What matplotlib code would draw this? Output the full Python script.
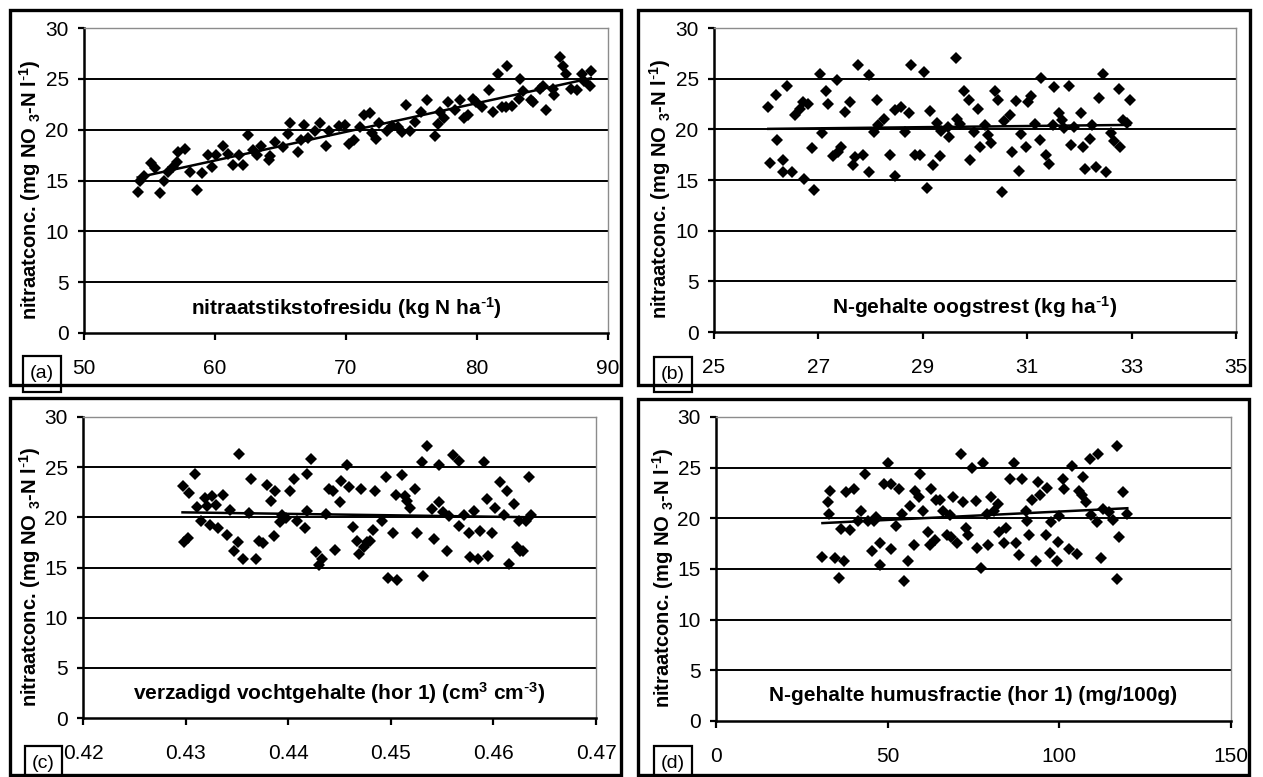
"""Nitraatconcentratie tegen vier bodem-/gewasvariabelen, 2x2 scatterpanelen met lineaire trend."""

import matplotlib

matplotlib.use("Agg")
import matplotlib.pyplot as plt
import numpy as np
from matplotlib.patches import Rectangle

plt.rcParams["font.family"] = ["Liberation Sans", "DejaVu Sans"]
plt.rcParams["mathtext.default"] = "regular"

W, H = 1263, 777

# (a) nitraatstikstofresidu (kg N/ha)
a_x = [54.1, 54.3, 54.6, 55.1, 55.4, 55.8, 56.1, 56.4, 56.8, 57.1, 57.2, 57.7, 58.1, 58.6,
       59.0, 59.5, 59.8, 60.1, 60.6, 61.0, 61.4, 61.8, 62.1, 62.5, 62.9, 63.2, 63.5, 64.1,
       64.2, 64.6, 65.2, 65.6, 65.7, 66.3, 66.6, 66.8, 67.1, 67.6, 68.0, 68.5, 68.7, 69.5,
       69.9, 70.2, 70.6, 71.1, 71.4, 71.8, 72.0, 72.3, 72.5, 73.1, 73.5, 74.0, 74.3, 74.6,
       74.9, 75.3, 75.7, 76.2, 76.8, 77.0, 77.2, 77.5, 77.8, 78.3, 78.7, 79.0, 79.3, 79.7,
       79.9, 80.4, 80.9, 81.2, 81.6, 81.9, 82.2, 82.3, 82.7, 83.2, 83.3, 83.5, 84.1, 84.3,
       84.8, 85.0, 85.3, 85.8, 85.9, 86.3, 86.6, 86.8, 87.2, 87.6, 88.0, 88.2, 88.6, 88.7]
a_y = [13.9, 15.0, 15.4, 16.7, 16.2, 13.8, 15.0, 15.8, 16.3, 16.8, 17.8, 18.1, 15.8, 14.1,
       15.7, 17.5, 16.3, 17.5, 18.4, 17.6, 16.5, 17.5, 16.5, 19.5, 18.0, 17.5, 18.4, 17.0,
       17.4, 18.8, 18.3, 19.6, 20.7, 17.8, 19.0, 20.5, 19.2, 19.9, 20.7, 18.4, 19.9, 20.4,
       20.5, 18.6, 19.0, 20.3, 21.4, 21.6, 19.7, 19.1, 20.7, 19.9, 20.4, 20.3, 19.8, 22.4,
       19.9, 20.8, 21.7, 22.9, 19.4, 20.6, 21.7, 21.1, 22.7, 21.9, 22.9, 21.1, 21.4, 23.0,
       22.7, 22.2, 23.9, 21.7, 25.5, 22.2, 22.2, 26.3, 22.3, 23.0, 25.0, 23.8, 22.9, 22.7,
       24.0, 24.3, 21.9, 24.0, 23.4, 27.1, 26.3, 25.5, 24.0, 23.9, 25.5, 24.8, 24.3, 25.8]

# (b) N-gehalte oogstrest (kg/ha)
b_x = [26.04, 26.08, 26.19, 26.20, 26.32, 26.32, 26.39, 26.49, 26.56, 26.64, 26.70, 26.73,
       26.81, 26.87, 26.91, 27.04, 27.07, 27.14, 27.18, 27.28, 27.35, 27.38, 27.43, 27.51,
       27.61, 27.66, 27.71, 27.76, 27.86, 27.96, 27.97, 28.06, 28.13, 28.15, 28.25, 28.38,
       28.46, 28.47, 28.59, 28.65, 28.73, 28.78, 28.85, 28.95, 29.02, 29.08, 29.13, 29.19,
       29.27, 29.33, 29.35, 29.49, 29.50, 29.64, 29.66, 29.72, 29.78, 29.89, 29.91, 29.98,
       30.05, 30.09, 30.19, 30.24, 30.30, 30.39, 30.45, 30.51, 30.55, 30.67, 30.71, 30.78,
       30.84, 30.88, 30.98, 31.01, 31.07, 31.15, 31.25, 31.27, 31.36, 31.42, 31.50, 31.52,
       31.61, 31.67, 31.71, 31.81, 31.84, 31.89, 32.04, 32.07, 32.10, 32.21, 32.25, 32.31,
       32.38, 32.46, 32.51, 32.60, 32.66, 32.76, 32.77, 32.83, 32.91, 32.97]
b_y = [22.2, 16.7, 23.4, 18.9, 17.0, 15.8, 24.3, 15.8, 21.4, 22.0, 22.7, 15.1,
       22.5, 18.2, 14.0, 25.5, 19.6, 23.8, 22.5, 17.4, 24.9, 17.8, 18.3, 21.7,
       22.7, 16.5, 17.3, 26.3, 17.5, 15.8, 25.4, 19.7, 22.9, 20.4, 21.0, 17.5,
       15.4, 21.9, 22.2, 19.7, 21.6, 26.3, 17.5, 17.5, 25.7, 14.2, 21.8, 16.5,
       20.6, 17.4, 19.8, 20.2, 19.2, 27.0, 21.0, 20.5, 23.8, 22.9, 17.0, 19.7,
       22.0, 18.3, 20.4, 19.4, 18.7, 23.8, 22.9, 13.8, 20.8, 21.4, 17.8, 22.8,
       15.9, 19.5, 18.3, 22.7, 23.3, 20.5, 18.9, 25.1, 17.5, 16.6, 20.4, 24.2,
       21.6, 20.9, 20.1, 24.3, 18.5, 20.2, 21.6, 18.3, 16.1, 19.0, 20.4, 16.3,
       23.1, 25.5, 15.8, 19.6, 18.8, 24.0, 18.3, 20.9, 20.6, 22.9]

# (c) verzadigd vochtgehalte hor 1 (cm3/cm3)
c_x = [0.4297, 0.4298, 0.4302, 0.4303, 0.4309, 0.4311, 0.4315, 0.4319, 0.4321, 0.4324,
       0.4326, 0.4330, 0.4332, 0.4336, 0.4340, 0.4343, 0.4347, 0.4351, 0.4352, 0.4356,
       0.4362, 0.4364, 0.4369, 0.4372, 0.4375, 0.4379, 0.4383, 0.4386, 0.4387, 0.4392,
       0.4394, 0.4398, 0.4402, 0.4406, 0.4409, 0.4416, 0.4418, 0.4418, 0.4422, 0.4427,
       0.4430, 0.4433, 0.4437, 0.4440, 0.4444, 0.4446, 0.4450, 0.4451, 0.4457, 0.4459,
       0.4463, 0.4467, 0.4469, 0.4471, 0.4474, 0.4477, 0.4480, 0.4483, 0.4485, 0.4491,
       0.4495, 0.4497, 0.4502, 0.4505, 0.4506, 0.4511, 0.4514, 0.4516, 0.4519, 0.4524,
       0.4526, 0.4530, 0.4531, 0.4535, 0.4540, 0.4542, 0.4547, 0.4547, 0.4551, 0.4555,
       0.4557, 0.4561, 0.4566, 0.4566, 0.4571, 0.4576, 0.4577, 0.4581, 0.4585, 0.4587,
       0.4591, 0.4594, 0.4595, 0.4599, 0.4602, 0.4606, 0.4610, 0.4613, 0.4615, 0.4620,
       0.4623, 0.4625, 0.4626, 0.4629, 0.4632, 0.4635, 0.4637]
c_y = [23.1, 17.5, 17.9, 22.4, 24.3, 21.0, 19.6, 21.9, 21.1, 19.2,
       22.1, 21.2, 18.9, 22.2, 18.2, 20.7, 16.6, 17.5, 26.3, 15.8,
       20.4, 23.8, 15.8, 17.6, 17.4, 23.2, 21.6, 18.1, 22.6, 19.5,
       20.2, 19.9, 22.6, 23.8, 19.6, 18.9, 20.6, 24.3, 25.8, 16.5,
       15.2, 15.8, 20.3, 22.8, 22.6, 16.7, 21.5, 23.6, 25.2, 23.0,
       19.0, 17.6, 16.3, 22.8, 17.0, 17.5, 17.6, 18.7, 22.6, 19.6,
       24.0, 14.0, 18.4, 22.2, 13.8, 24.2, 22.1, 21.6, 20.9, 22.8,
       18.4, 25.5, 14.2, 27.1, 20.8, 17.8, 25.2, 21.5, 20.5, 16.6,
       20.1, 26.2, 25.6, 19.1, 20.2, 18.4, 16.0, 20.6, 15.8, 18.6,
       25.5, 21.8, 16.1, 18.4, 20.9, 23.5, 20.2, 22.6, 15.3, 21.3,
       17.0, 19.6, 16.6, 16.6, 19.6, 24.0, 20.2]

# (d) N-gehalte humusfractie hor 1 (mg/100g)
d_x = [31.0, 32.5, 32.9, 33.3, 34.8, 35.7, 36.4, 37.2, 38.0, 38.9, 40.3, 41.3, 42.2, 43.4,
       44.2, 45.4, 46.0, 46.5, 47.7, 47.7, 48.9, 50.0, 50.9, 51.0, 52.4, 53.2, 54.1, 54.7,
       55.9, 56.5, 57.6, 58.0, 59.0, 59.4, 60.2, 61.7, 62.3, 62.6, 63.8, 64.1, 65.3, 66.1,
       67.3, 68.2, 68.4, 69.1, 70.3, 71.5, 71.9, 72.8, 73.4, 74.6, 75.8, 76.1, 77.3, 77.8,
       78.9, 79.3, 80.1, 80.9, 82.2, 82.4, 83.9, 84.5, 85.7, 86.9, 87.5, 88.3, 89.0, 90.2,
       90.6, 91.3, 92.1, 93.3, 93.7, 94.5, 96.0, 96.3, 97.4, 97.7, 99.2, 99.5, 100.0, 101.0,
       101.5, 102.7, 103.8, 105.0, 105.6, 106.5, 106.8, 107.9, 108.8, 109.3, 110.9, 111.2,
       112.0, 112.8, 114.4, 115.5, 116.7, 116.7, 117.5, 118.4, 119.8]
d_y = [16.2, 21.6, 20.4, 22.7, 16.1, 14.1, 18.9, 15.8, 22.6, 18.8, 22.9, 19.7, 20.7, 24.4,
       19.7, 16.8, 19.7, 20.1, 15.4, 17.6, 23.4, 25.5, 17.0, 23.4, 19.2, 22.9, 20.4, 13.8,
       15.8, 21.2, 17.4, 22.7, 22.1, 24.4, 20.7, 18.7, 17.4, 22.9, 17.9, 21.8, 21.8, 20.7,
       18.4, 20.3, 18.2, 22.1, 17.6, 26.3, 21.6, 19.0, 18.4, 25.0, 21.7, 17.1, 15.1, 25.5,
       20.4, 17.4, 22.1, 20.7, 21.4, 18.7, 17.6, 19.0, 23.9, 25.5, 17.6, 16.4, 23.9, 20.7,
       19.7, 18.4, 21.8, 15.8, 23.6, 22.3, 18.4, 23.0, 16.6, 19.6, 15.8, 17.7, 20.2, 23.9,
       22.9, 17.0, 25.2, 16.5, 22.7, 22.3, 24.1, 21.6, 25.9, 20.3, 19.6, 26.3,
       16.1, 20.9, 20.6, 19.8, 27.1, 14.0, 18.2, 22.6, 20.4]

YLABEL = r"nitraatconc. (mg NO $_3$-N l$^{\text{-}1}$)"

panels = [
    dict(tag="(a)", x=a_x, y=a_y, xlim=(50, 90), xticks=[50, 60, 70, 80, 90], fmt="{:g}",
         xlabel=r"nitraatstikstofresidu (kg N ha$^{\text{-}1}$)",
         ax_px=(84, 28, 608, 333), frame=(10, 10, 621, 385), box=(23, 356, 61, 392)),
    dict(tag="(b)", x=b_x, y=b_y, xlim=(25, 35), xticks=[25, 27, 29, 31, 33, 35], fmt="{:g}",
         xlabel=r"N-gehalte oogstrest (kg ha$^{\text{-}1}$)",
         ax_px=(714, 28, 1236, 332), frame=(638, 10, 1250, 385), box=(654, 357, 692, 392)),
    dict(tag="(c)", x=c_x, y=c_y, xlim=(0.42, 0.47),
         xticks=[0.42, 0.43, 0.44, 0.45, 0.46, 0.47], fmt="{:.2f}",
         xlabel=r"verzadigd vochtgehalte (hor 1) (cm$^3$ cm$^{\text{-}3}$)",
         ax_px=(83, 417, 596, 718), frame=(10, 398, 621, 775), box=(25, 746, 62, 782)),
    dict(tag="(d)", x=d_x, y=d_y, xlim=(0, 150), xticks=[0, 50, 100, 150], fmt="{:g}",
         xlabel="N-gehalte humusfractie (hor 1) (mg/100g)",
         ax_px=(716, 417, 1231, 721), frame=(638, 399, 1249, 775), box=(654, 746, 692, 782)),
]


def fig_rect(x0, y0, x1, y1):
    """pixel box (top-left origin) -> figure fraction [left, bottom, width, height]"""
    return [x0 / W, 1 - y1 / H, (x1 - x0) / W, (y1 - y0) / H]


fig = plt.figure(figsize=(W / 100, H / 100), dpi=100)

for p in panels:
    ax = fig.add_axes(fig_rect(*p["ax_px"]))
    x = np.asarray(p["x"])
    y = np.asarray(p["y"])

    ax.set_xlim(*p["xlim"])
    ax.set_ylim(0, 30)
    ax.set_yticks(range(0, 31, 5))
    ax.set_xticks(p["xticks"])
    ax.set_xticklabels([p["fmt"].format(t) for t in p["xticks"]])

    for g in range(5, 30, 5):
        ax.axhline(g, color="black", lw=1.4, zorder=1)

    ax.plot(x, y, "D", color="black", ms=6.3, mew=0, zorder=3)

    # lineaire trendlijn over het bereik van de data
    k, b0 = np.polyfit(x, y, 1)
    xs = np.array([x.min(), x.max()])
    ax.plot(xs, k * xs + b0, color="black", lw=1.8, zorder=2)

    for side in ("top", "right"):
        ax.spines[side].set_color("#8c8c8c")
        ax.spines[side].set_linewidth(1.0)
    for side in ("left", "bottom"):
        ax.spines[side].set_color("black")
        ax.spines[side].set_linewidth(1.8)

    ax.tick_params(axis="y", direction="out", length=4, width=1.6, pad=7, labelsize=15)
    ax.tick_params(axis="x", direction="out", length=5, width=1.6, pad=14, labelsize=15)

    ax.set_ylabel(YLABEL, fontsize=14.5, fontweight="bold", va="center")
    ax.yaxis.set_label_coords(-0.103, 0.47)
    ax.text(0.5, 2.5 / 30, p["xlabel"], transform=ax.transAxes, ha="center", va="center",
            fontsize=15, fontweight="bold")

    fx0, fy0, fx1, fy1 = p["frame"]
    l, bt, w, h = fig_rect(fx0, fy0, fx1, fy1)
    fig.add_artist(Rectangle((l, bt), w, h, transform=fig.transFigure, fill=False,
                             edgecolor="black", lw=2.4, zorder=5))

    bx0, by0, bx1, by1 = p["box"]
    l, bt, w, h = fig_rect(bx0, by0, bx1, by1)
    fig.add_artist(Rectangle((l, bt), w, h, transform=fig.transFigure, fill=False,
                             edgecolor="black", lw=1.6, zorder=6))
    fig.text(l + w / 2, bt + h / 2, p["tag"], ha="center", va="center", fontsize=14)

fig.savefig("out.png", dpi=100)
